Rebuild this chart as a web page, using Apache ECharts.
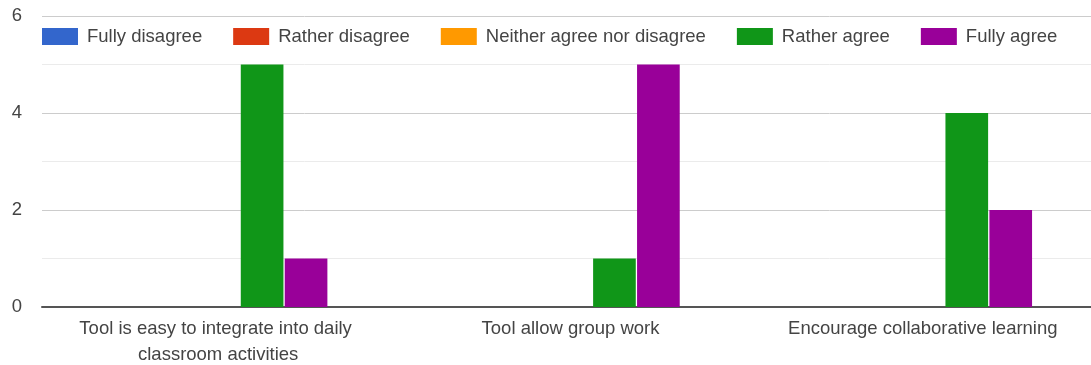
<!DOCTYPE html>
<html>
<head>
<meta charset="utf-8">
<script src="https://cdn.jsdelivr.net/npm/echarts@6/dist/echarts.min.js"></script>
<style>
  html, body { margin: 0; padding: 0; background: #fff; }
  #chart { width: 1091px; height: 365px; }
</style>
</head>
<body>
<div id="chart"></div>
<script>
const categories = [
  'Tool is easy to integrate into daily classroom activities',
  'Tool allow group work',
  'Encourage collaborative learning'
]
const seriesNames = ['Fully disagree', 'Rather disagree', 'Neither agree nor disagree', 'Rather agree', 'Fully agree']
const fullyDisagree = [0, 0, 0]
const ratherDisagree = [0, 0, 0]
const neither = [0, 0, 0]
const ratherAgree = [5, 1, 4]
const fullyAgree = [1, 5, 2]
const colors = ['#3366cc', '#dc3912', '#ff9900', '#109618', '#990099']

const values = [fullyDisagree, ratherDisagree, neither, ratherAgree, fullyAgree]
const font = '"Liberation Sans", Arial, sans-serif'

const myChart = echarts.init(document.getElementById('chart'))
myChart.setOption({
  animation: false,
  color: colors,
  legend: {
    data: seriesNames,
    top: 27,
    left: 42,
    padding: 0,
    icon: 'rect',
    itemWidth: 36,
    itemHeight: 17,
    itemGap: 31,
    textStyle: {
      fontFamily: font,
      fontSize: 18.5,
      color: '#444',
      padding: [0, 0, 0, 4]
    }
  },
  grid: {
    left: 42,
    right: -8,
    top: 16,
    bottom: 58,
    containLabel: false,
    outerBoundsMode: 'none'
  },
  xAxis: {
    type: 'category',
    data: categories,
    axisTick: { show: false },
    axisLine: { lineStyle: { color: '#555', width: 2 } },
    axisLabel: {
      interval: 0,
      fontFamily: font,
      fontSize: 18.5,
      color: '#444',
      margin: 9,
      lineHeight: 26,
      width: 300,
      overflow: 'break'
    }
  },
  yAxis: {
    type: 'value',
    min: 0,
    max: 6,
    interval: 2,
    axisLine: { show: false },
    axisTick: { show: false },
    axisLabel: {
      fontFamily: font,
      fontSize: 18.5,
      color: '#444',
      margin: 20
    },
    splitLine: { lineStyle: { color: '#cccccc', width: 1 } },
    minorTick: { show: false, splitNumber: 2 },
    minorSplitLine: { show: true, lineStyle: { color: '#ebebeb', width: 1 } }
  },
  series: seriesNames.map(function (name, i) {
    return {
      name: name,
      type: 'bar',
      data: values[i],
      barCategoryGap: '38%',
      barGap: '3%'
    }
  })
})
</script>
</body>
</html>
